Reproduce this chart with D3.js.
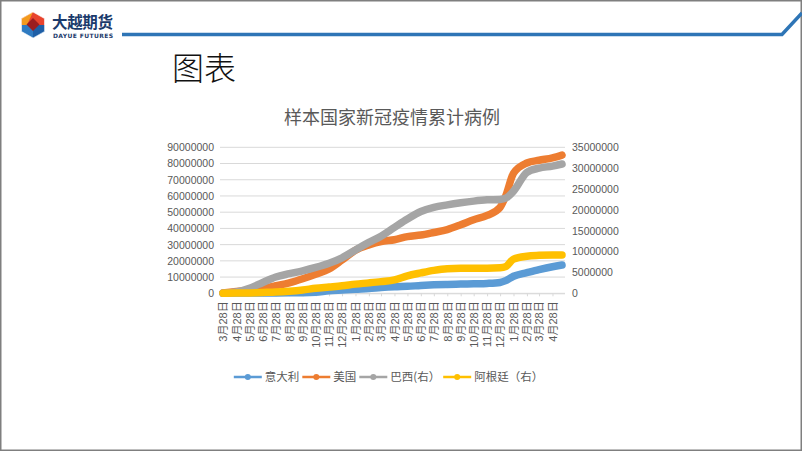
<!DOCTYPE html>
<html><head><meta charset="utf-8">
<script src="https://cdn.jsdelivr.net/npm/d3@7"></script>
<style>body{margin:0;background:#fff}svg{display:block}</style>
</head><body>
<svg id="c" width="802" height="451"></svg>
<script>
// ---------- data ----------
const dates = ["2020-03-28","2020-04-28","2020-05-28","2020-06-28","2020-07-28","2020-08-28","2020-09-28","2020-10-28","2020-11-28","2020-12-28",
  "2021-01-28","2021-02-28","2021-03-28","2021-04-28","2021-05-28","2021-06-28","2021-07-28","2021-08-28","2021-09-28","2021-10-28","2021-11-28","2021-12-28",
  "2022-01-10","2022-01-28","2022-02-28","2022-03-28","2022-04-28","2022-05-20"];
const italy = [90000,200000,230000,240000,250000,265000,310000,600000,1500000,2000000,2500000,2900000,3500000,4000000,4300000,4800000,5200000,5500000,5700000,5900000,6100000,6700000,7800000,10500000,12700000,14600000,16400000,17400000];
const usa = [150000,1100000,2000000,3000000,4700000,6500000,9000000,11800000,15000000,20500000,26500000,29800000,31900000,33000000,34900000,35900000,37500000,39300000,42200000,45300000,48000000,53000000,60000000,74000000,80300000,82000000,83500000,85200000];
const brazil = [0,300000,1200000,2600000,3900000,4700000,5400000,6200000,7200000,8500000,10400000,12200000,13700000,15800000,17800000,19600000,20600000,21200000,21700000,22100000,22400000,22500000,22800000,24500000,29000000,30000000,30500000,31000000];
const argentina = [0,50000,100000,200000,300000,500000,800000,1200000,1500000,1800000,2200000,2500000,2800000,3200000,4200000,4900000,5500000,5900000,6000000,6000000,6000000,6100000,6400000,8200000,8900000,9100000,9200000,9200000];
const tickDates = ["2020-03-28","2020-04-28","2020-05-28","2020-06-28","2020-07-28","2020-08-28","2020-09-28","2020-10-28","2020-11-28","2020-12-28",
  "2021-01-28","2021-02-28","2021-03-28","2021-04-28","2021-05-28","2021-06-28","2021-07-28","2021-08-28","2021-09-28","2021-10-28","2021-11-28","2021-12-28",
  "2022-01-28","2022-02-28","2022-03-28","2022-04-28"];
const tickLabels = ["3月28日","4月28日","5月28日","6月28日","7月28日","8月28日","9月28日","10月28日","11月28日","12月28日",
  "1月28日","2月28日","3月28日","4月28日","5月28日","6月28日","7月28日","8月28日","9月28日","10月28日","11月28日","12月28日",
  "1月28日","2月28日","3月28日","4月28日"];
const leftTicks = [0,10000000,20000000,30000000,40000000,50000000,60000000,70000000,80000000,90000000];
const rightTicks = [0,5000000,10000000,15000000,20000000,25000000,30000000,35000000];
const seriesNames = ["意大利","美国","巴西(右）","阿根廷（右）"];
const colors = ["#5B9BD5","#ED7D31","#A5A5A5","#FFC000"];

// ---------- setup ----------
const svg = d3.select("#c");
const parse = d3.timeParse("%Y-%m-%d");
const FONT = "'Liberation Sans','Noto Sans CJK SC',sans-serif";
const CJK = "'Noto Sans CJK SC',sans-serif";

// slide frame
svg.append("rect").attr("x",0.75).attr("y",0.75).attr("width",800.5).attr("height",449.5)
  .attr("fill","#fff").attr("stroke","#7f7f7f").attr("stroke-width",1.5);

// header line
svg.append("path").attr("d","M122,34.5 L782,34.5 L802,13").attr("fill","none")
  .attr("stroke","#2E75B6").attr("stroke-width",3.5);

// logo icon
const logo = svg.append("g");
const hex = [[33,12],[44.5,18.5],[44.5,31.5],[33,38],[21.5,31.5],[21.5,18.5]];
logo.append("polygon").attr("points","33,12 44.5,18.5 44.5,25 33,25 21.5,25 21.5,18.5").attr("fill","#E8442E");
logo.append("polygon").attr("points","33,12 21.5,18.5 21.5,25 27,25").attr("fill","#F39A1E");
logo.append("polygon").attr("points","21.5,25 44.5,25 44.5,31.5 33,38 21.5,31.5").attr("fill","#2F7BC1");
logo.append("polygon").attr("points","33,25 44.5,25 44.5,31.5 33,38").attr("fill","#1E5FA6");
logo.append("polygon").attr("points","33,18 39.5,24.5 33,31 26.5,24.5").attr("fill","#9B1D20");
logo.append("polygon").attr("points",hex.map(d=>d.join(",")).join(" ")).attr("fill","none").attr("stroke","#fff").attr("stroke-width",0.6);
svg.append("text").attr("x",52).attr("y",28).attr("font-family",CJK).attr("font-weight",700)
  .attr("font-size",15.5).attr("fill","#1B3A6B").attr("textLength",61).text("大越期货");
svg.append("text").attr("x",53).attr("y",37.5).attr("font-family","'DejaVu Sans',sans-serif").attr("font-weight",700)
  .attr("font-size",6).attr("fill","#1B3A6B").attr("textLength",60).attr("lengthAdjust","spacing").text("DAYUE FUTURES");

// page title
svg.append("text").attr("x",172).attr("y",80).attr("font-family",CJK).attr("font-weight",300)
  .attr("font-size",32).attr("fill","#111").text("图表");

// chart title
svg.append("text").attr("x",392).attr("y",124).attr("text-anchor","middle").attr("font-family",CJK)
  .attr("font-size",18).attr("fill","#595959").text("样本国家新冠疫情累计病例");

// scales
const x = d3.scaleTime().domain([parse("2020-03-28"), parse("2022-05-20")]).range([223, 562]);
const yL = d3.scaleLinear().domain([0, 90000000]).range([293.3, 147.3]);
const yR = d3.scaleLinear().domain([0, 35000000]).range([293.3, 147.3]);

// gridlines
svg.append("g").selectAll("line").data(leftTicks).join("line")
  .attr("x1",220).attr("x2",565).attr("y1",d=>yL(d)).attr("y2",d=>yL(d))
  .attr("stroke","#D9D9D9").attr("stroke-width",1);

// left axis
const gL = svg.append("g").attr("transform","translate(220,0)")
  .call(d3.axisLeft(yL).tickValues(leftTicks).tickSize(0).tickPadding(6).tickFormat(d3.format("d")));
gL.select(".domain").remove();
gL.selectAll("text").attr("font-family",FONT).attr("font-size",10.5).attr("fill","#595959");

// right axis
const gR = svg.append("g").attr("transform","translate(566,0)")
  .call(d3.axisRight(yR).tickValues(rightTicks).tickSize(0).tickPadding(6).tickFormat(d3.format("d")));
gR.select(".domain").remove();
gR.selectAll("text").attr("font-family",FONT).attr("font-size",10.5).attr("fill","#595959");

// bottom axis
const gB = svg.append("g").attr("transform","translate(0,293.3)")
  .call(d3.axisBottom(x).tickValues(tickDates.map(parse)).tickSize(3).tickPadding(0)
    .tickFormat((d,i)=>tickLabels[i]));
gB.select(".domain").attr("d","M220,0.5H565").attr("stroke","#D9D9D9");
gB.selectAll(".tick line").attr("stroke","#D9D9D9");
gB.selectAll(".tick text")
  .attr("font-family",FONT).attr("font-size",11).attr("fill","#595959")
  .attr("text-anchor","end").attr("transform","translate(0,8) rotate(-90)")
  .attr("x",0).attr("y",0).attr("dy","0.35em");

// lines
const data = [italy, usa, brazil, argentina];
const scales = [yL, yL, yR, yR];
data.forEach((vals, k) => {
  const pts = vals.map((v,i)=>({d: parse(dates[i]), v}));
  const line = d3.line().x(p=>x(p.d)).y(p=>scales[k](p.v)).curve(d3.curveMonotoneX);
  svg.append("path").datum(pts).attr("d",line).attr("fill","none")
    .attr("stroke",colors[k]).attr("stroke-width",7.5)
    .attr("stroke-linecap","round").attr("stroke-linejoin","round");
});

// legend
const leg = svg.append("g");
let cx = 0;
const items = [];
seriesNames.forEach((name,k)=>{
  const g = leg.append("g").attr("transform",`translate(${cx},0)`);
  g.append("line").attr("x1",0).attr("x2",28).attr("y1",0).attr("y2",0)
    .attr("stroke",colors[k]).attr("stroke-width",2.5);
  g.append("circle").attr("cx",14).attr("cy",0).attr("r",3).attr("fill",colors[k]);
  const t = g.append("text").attr("x",31).attr("y",0).attr("dy","0.35em")
    .attr("font-family",CJK).attr("font-size",11.5).attr("fill","#595959").text(name);
  cx += 31 + t.node().getComputedTextLength() + 3;
});
leg.attr("transform",`translate(${390 - cx/2},377)`);
</script>
</body></html>
